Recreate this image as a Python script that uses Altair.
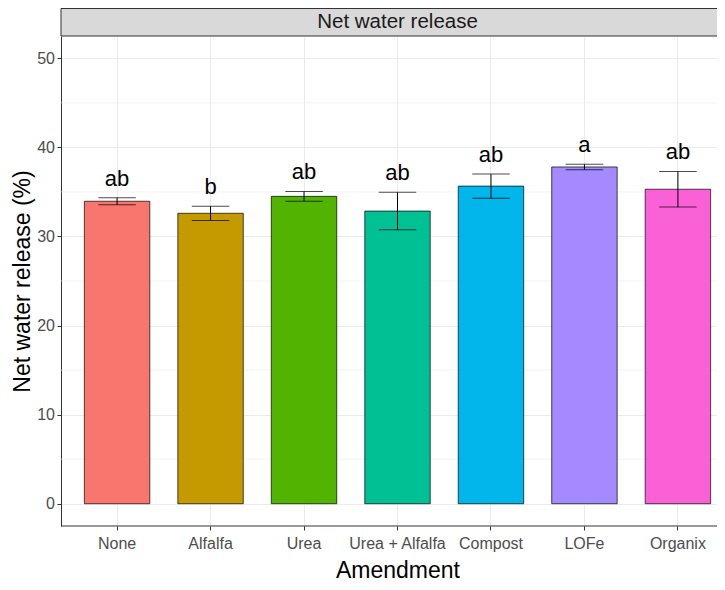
import altair as alt
import pandas as pd

categories = ["None", "Alfalfa", "Urea", "Urea + Alfalfa", "Compost", "LOFe", "Organix"]
means = [33.95, 32.6, 34.5, 32.85, 35.65, 37.8, 35.3]
ses = [0.4, 0.8, 0.55, 2.1, 1.35, 0.3, 2.0]
letters = ["ab", "b", "ab", "ab", "ab", "a", "ab"]
colors = ["#F8766D", "#C49A00", "#53B400", "#00C094", "#00B6EB", "#A58AFF", "#FB61D7"]
y_ticks = [0, 10, 20, 30, 40, 50]
y_minor = [5, 15, 25, 35, 45]
strip_title = ["Net water release"]

W = 656
H = 490
XR = 673
STRIP = 28
FONT = "Liberation Sans"

df = pd.DataFrame({"Amendment": categories, "mean": means, "se": ses, "letter": letters})

x_enc = alt.X(
    "Amendment:N",
    sort=categories,
    scale=alt.Scale(domain=categories, range=[0, XR], paddingInner=0, paddingOuter=0.1),
    axis=alt.Axis(
        title="Amendment", domain=False, ticks=True, tickColor="#333333", tickSize=4,
        labelAngle=0, labelFontSize=16, labelColor="#4D4D4D", labelPadding=5,
        titleFontSize=23, titleFontWeight="normal", titleColor="black", titlePadding=8,
        grid=True, gridColor="#EBEBEB", gridWidth=1, bandPosition=0.5,
    ),
)

y_scale = alt.Scale(domain=[-2.5, 52.5], nice=False, zero=False)
y_axis = alt.Axis(
    values=y_ticks, title="Net water release (%)", domain=True, domainColor="#333333",
    domainWidth=1, tickColor="#333333", tickSize=4, labelFontSize=16,
    labelColor="#4D4D4D", labelPadding=2.5, titleFontSize=23, titleFontWeight="normal",
    titleColor="black", titlePadding=2, grid=True, gridColor="#EBEBEB", gridWidth=1,
)


def yq(field):
    return alt.Y(field, type="quantitative", scale=y_scale, axis=y_axis)


base = alt.Chart(df).transform_calculate(
    lo="datum.mean - datum.se", hi="datum.mean + datum.se"
)

minor = alt.Chart(pd.DataFrame({"mean": y_minor})).mark_rule(
    color="#EBEBEB", strokeWidth=0.6
).encode(y=yq("mean"))

bars = base.mark_bar(width=alt.RelativeBandSize(0.7), stroke="black", strokeWidth=0.7).encode(
    x=x_enc,
    y=yq("mean"),
    color=alt.Color("Amendment:N", scale=alt.Scale(domain=categories, range=colors), legend=None),
)

err = base.mark_rule(color="black", strokeWidth=1).encode(
    x=x_enc, y=yq("lo"), y2="hi:Q"
)

caps = base.transform_fold(["lo", "hi"], as_=["k", "v"]).mark_tick(
    orient="horizontal", size=37.5, thickness=1, color="black"
).encode(x=x_enc, y=yq("v"))

labels = base.mark_text(
    baseline="alphabetic", dy=-12, fontSize=22, color="black", font=FONT
).encode(x=x_enc, y=yq("hi"), text="letter:N")

bottom = alt.Chart(pd.DataFrame({"t": strip_title})).mark_rule(
    color="#333333", strokeWidth=1
).encode(x=alt.value(0), x2=alt.value(W + 10), y=alt.value(H))

strip = alt.Chart(pd.DataFrame({"t": strip_title})).mark_rect(
    fill="#D9D9D9", stroke="#333333", strokeWidth=1
).encode(x=alt.value(0), x2=alt.value(W + 10), y=alt.value(-STRIP + 0.5), y2=alt.value(0))

strip_text = alt.Chart(pd.DataFrame({"t": strip_title})).mark_text(
    fontSize=20.5, color="#1A1A1A", font=FONT, baseline="middle", align="center"
).encode(x=alt.value(XR / 2), y=alt.value(-STRIP / 2), text="t:N")

chart = alt.layer(minor, bars, err, caps, labels, bottom, strip, strip_text).properties(
    width=W, height=H,
    autosize=alt.AutoSizeParams(type="none"),
    padding={"left": 53, "top": STRIP, "right": 0, "bottom": 56},
).configure(font=FONT).configure_view(stroke=None)

chart.save("out.html", embed_options={"renderer": "svg", "actions": False})
